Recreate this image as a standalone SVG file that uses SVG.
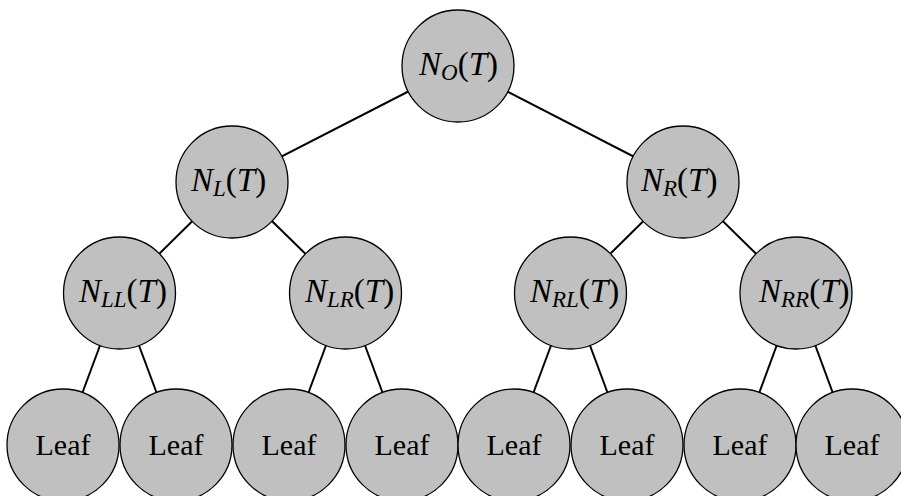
<svg xmlns="http://www.w3.org/2000/svg" width="901" height="496" viewBox="0 0 901 496">
<style>
.n{fill:#c0c0c0;stroke:#000;stroke-width:1.3}
.e{stroke:#000;stroke-width:2;fill:none}
text{font-family:'Liberation Serif','Times New Roman',serif;fill:#000}
.t{font-size:33px}
.i{font-style:italic}
.s{font-style:italic;font-size:23px}
.l{font-size:30px;text-anchor:middle}
</style>
<rect width="901" height="496" fill="#fff"/>
<g id="edges">
<line class="e" x1="458" y1="66" x2="232" y2="182"/>
<line class="e" x1="458" y1="66" x2="683" y2="182"/>
<line class="e" x1="232" y1="182" x2="119.5" y2="293"/>
<line class="e" x1="232" y1="182" x2="345.5" y2="293"/>
<line class="e" x1="683" y1="182" x2="570.5" y2="293"/>
<line class="e" x1="683" y1="182" x2="796" y2="293"/>
<line class="e" x1="119.5" y1="293" x2="63" y2="445"/>
<line class="e" x1="119.5" y1="293" x2="176" y2="445"/>
<line class="e" x1="345.5" y1="293" x2="289" y2="445"/>
<line class="e" x1="345.5" y1="293" x2="402" y2="445"/>
<line class="e" x1="570.5" y1="293" x2="514" y2="445"/>
<line class="e" x1="570.5" y1="293" x2="627" y2="445"/>
<line class="e" x1="796" y1="293" x2="740" y2="445"/>
<line class="e" x1="796" y1="293" x2="852" y2="445"/>
</g>
<g id="root"><circle class="n" cx="458" cy="66" r="56"/>
<text class="t" x="419" y="75"><tspan class="i">N</tspan><tspan class="s" dy="5">O</tspan><tspan dy="-5">(</tspan><tspan class="i">T</tspan>)</text></g>
<g id="nL"><circle class="n" cx="232" cy="182" r="56"/>
<text class="t" x="191" y="191"><tspan class="i">N</tspan><tspan class="s" dy="5">L</tspan><tspan dy="-5">(</tspan><tspan class="i">T</tspan>)</text></g>
<g id="nR"><circle class="n" cx="683" cy="182" r="56"/>
<text class="t" x="641" y="191"><tspan class="i">N</tspan><tspan class="s" dy="5">R</tspan><tspan dy="-5">(</tspan><tspan class="i">T</tspan>)</text></g>
<g id="nLL"><circle class="n" cx="119.5" cy="293" r="56"/>
<text class="t" x="79" y="302"><tspan class="i">N</tspan><tspan class="s" dy="5">LL</tspan><tspan dy="-5">(</tspan><tspan class="i">T</tspan>)</text></g>
<g id="nLR"><circle class="n" cx="345.5" cy="293" r="56"/>
<text class="t" x="305" y="302"><tspan class="i">N</tspan><tspan class="s" dy="5">LR</tspan><tspan dy="-5">(</tspan><tspan class="i">T</tspan>)</text></g>
<g id="nRL"><circle class="n" cx="570.5" cy="293" r="56"/>
<text class="t" x="530" y="302"><tspan class="i">N</tspan><tspan class="s" dy="5">RL</tspan><tspan dy="-5">(</tspan><tspan class="i">T</tspan>)</text></g>
<g id="nRR"><circle class="n" cx="796" cy="293" r="56"/>
<text class="t" x="759" y="302"><tspan class="i">N</tspan><tspan class="s" dy="5">RR</tspan><tspan dy="-5">(</tspan><tspan class="i">T</tspan>)</text></g>
<g id="leaf1"><circle class="n" cx="63" cy="445" r="56"/><text class="l" x="63" y="455">Leaf</text></g>
<g id="leaf2"><circle class="n" cx="176" cy="445" r="56"/><text class="l" x="176" y="455">Leaf</text></g>
<g id="leaf3"><circle class="n" cx="289" cy="445" r="56"/><text class="l" x="289" y="455">Leaf</text></g>
<g id="leaf4"><circle class="n" cx="402" cy="445" r="56"/><text class="l" x="402" y="455">Leaf</text></g>
<g id="leaf5"><circle class="n" cx="514" cy="445" r="56"/><text class="l" x="514" y="455">Leaf</text></g>
<g id="leaf6"><circle class="n" cx="627" cy="445" r="56"/><text class="l" x="627" y="455">Leaf</text></g>
<g id="leaf7"><circle class="n" cx="740" cy="445" r="56"/><text class="l" x="740" y="455">Leaf</text></g>
<g id="leaf8"><circle class="n" cx="852" cy="445" r="56"/><text class="l" x="852" y="455">Leaf</text></g>
</svg>
